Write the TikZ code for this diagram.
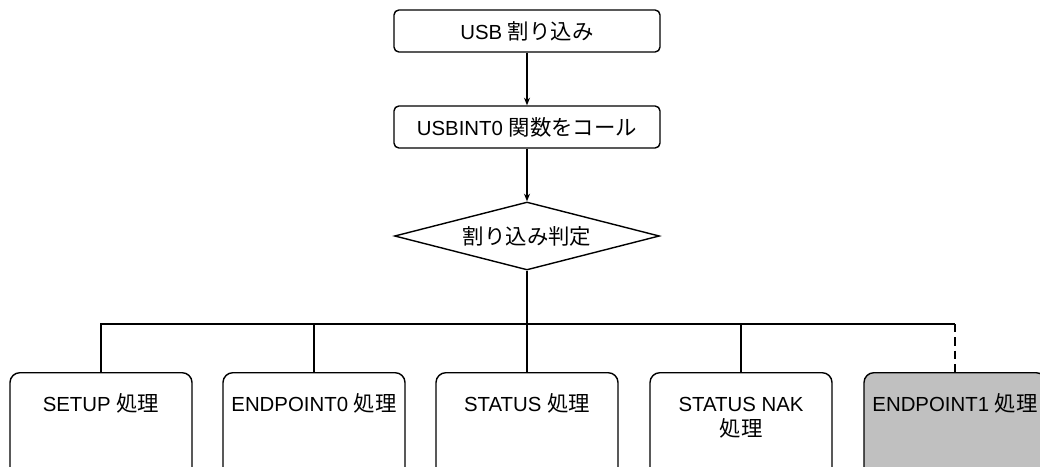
\documentclass[tikz,border=0pt]{standalone}
\usepackage{fontspec}
\setmainfont{Liberation Sans}
\newfontfamily\jpfont[Scale=1.05]{Noto Sans CJK JP}
\newcommand{\ja}[1]{{\jpfont #1}}
\usetikzlibrary{arrows.meta,positioning,shapes.geometric}
\definecolor{boxgray}{RGB}{192,192,192}
\tikzset{
  flowarr/.style={-{Stealth[length=1.9mm,width=1.5mm]}, line width=1pt},
  flowline/.style={line width=1pt},
  flownode/.style={draw, line width=1pt, rounded corners=3.5pt, align=center},
}
\newcommand{\proctext}[1]{\parbox[t][2.75cm][t]{4.55cm}{\centering\rule{0pt}{0.97cm}#1}}

\begin{document}
\begin{tikzpicture}[
  font=\fontsize{14.5}{17.5}\selectfont,
  topbox/.style={flownode, minimum width=6.65cm, minimum height=1.05cm},
  decide/.style={draw, diamond, aspect=3.9, line width=1pt, minimum width=6.62cm, minimum height=1.7cm, inner sep=0pt},
  procbox/.style={flownode, rounded corners=7pt, anchor=north, inner sep=0pt},
]
  \clip (0,0) rectangle (26,11.65);
  \node[topbox] (irq) at (13.175,10.875) {USB \ja{割り込み}};
  \node[topbox] (call) at (13.175,8.475) {USBINT0 \ja{関数をコール}};
  \node[decide] (judge) at (13.175,5.75) {\ja{割り込み判定}};
  \coordinate (bus) at (13.175,3.55);

  \node[procbox] (setup) at (2.525,2.35) {\proctext{SETUP \ja{処理}}};
  \node[procbox] (ep0) at (7.85,2.35) {\proctext{ENDPOINT0 \ja{処理}}};
  \node[procbox] (stat) at (13.175,2.35) {\proctext{STATUS \ja{処理}}};
  \node[procbox] (nak) at (18.525,2.35) {\proctext{STATUS NAK\\\ja{処理}}};
  \node[procbox, fill=boxgray] (ep1) at (23.875,2.35) {\proctext{ENDPOINT1 \ja{処理}}};

  \draw[flowarr] (irq) -- (call);
  \draw[flowarr] (call) -- (judge);
  \draw[flowline] (judge) -- (bus);
  \foreach \b in {setup,ep0,stat,nak}
    \draw[flowline] (bus) -| (\b.north);
  % last branch: dashed drop only
  \coordinate (ep1top) at (ep1.north |- bus);
  \draw[flowline] (bus) -- (ep1top);
  \draw[flowline, dash pattern=on 6pt off 3.5pt] (ep1top) -- (ep1.north);
\end{tikzpicture}
\end{document}
